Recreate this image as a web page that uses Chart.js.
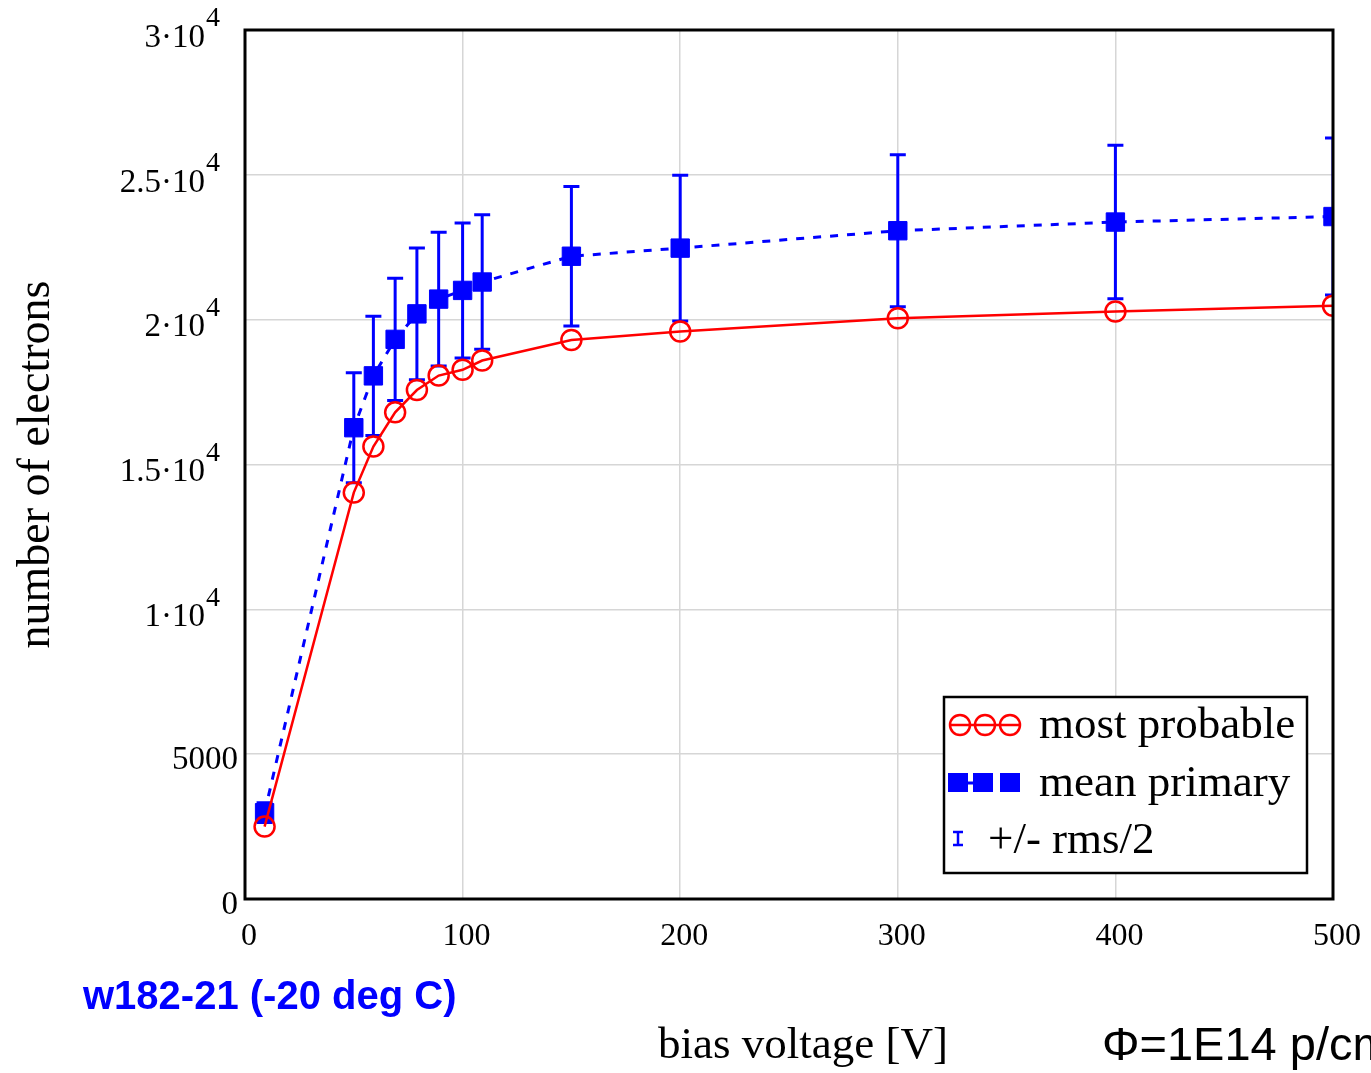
<!DOCTYPE html>
<html>
<head>
<meta charset="utf-8">
<script src="https://cdn.jsdelivr.net/npm/chart.js@4.4.1/dist/chart.umd.min.js"></script>
<style>
html,body{margin:0;padding:0;background:#fff;overflow:hidden;}
#wrap{position:relative;width:1371px;height:1073px;overflow:hidden;}
#cv{position:absolute;left:0;top:0;}
.note{position:absolute;white-space:nowrap;font-family:"Liberation Sans",Arial,sans-serif;}
#run{left:83px;top:971px;font-size:40px;font-weight:bold;color:#0000ff;line-height:48px;}
#fluence{left:1102px;top:1016px;font-size:47px;color:#000;line-height:56px;}
#xtitle{left:658px;top:1018px;font-size:45px;line-height:50px;color:#000;font-family:"Liberation Serif","Times New Roman",serif;}
</style>
</head>
<body>
<div id="wrap">
<canvas id="cv" width="1371" height="1073"></canvas>
<div class="note" id="run">w182-21 (-20 deg C)</div>
<div class="note" id="xtitle">bias voltage [V]</div>
<div class="note" id="fluence">Φ=1E14 p/cm²</div>
</div>
<script>
// data
const voltage      = [9, 50, 59, 69, 79, 89, 100, 109, 150, 200, 300, 400, 500];
const mostProbable = [2500, 14030, 15620, 16800, 17570, 18070, 18270, 18590, 19300, 19590, 20050, 20280, 20480];
const meanPrimary  = [2980, 16270, 18060, 19320, 20200, 20710, 21010, 21300, 22190, 22470, 23070, 23370, 23560];
const rmsHalf      = [340, 1900, 2060, 2110, 2270, 2310, 2330, 2320, 2410, 2515, 2620, 2650, 2710];

// y tick labels (mantissa + exponent, drawn by hand for the superscript)
const yTickValues = [0, 5000, 10000, 15000, 20000, 25000, 30000];
const yTickText   = ["0", "5000", "1\u00b710", "1.5\u00b710", "2\u00b710", "2.5\u00b710", "3\u00b710"];
const yTickExp    = ["", "", "4", "4", "4", "4", "4"];

const legendLabels = ["most probable", "mean primary", "+/- rms/2"];

const RED = "#ff0000", BLUE = "#0000ff";
const SERIF = '"Liberation Serif","Times New Roman",serif';

const pts = (ys)=>voltage.map((v,i)=>({x:v, y:ys[i]}));

// error bars under the blue squares
const errorBars = {
  id:"errorBars",
  beforeDatasetsDraw(chart){
    const {ctx, chartArea:a, scales:{x,y}} = chart;
    ctx.save();
    ctx.beginPath(); ctx.rect(a.left, a.top, a.right-a.left, a.bottom-a.top); ctx.clip();
    ctx.strokeStyle = BLUE; ctx.lineWidth = 3;
    voltage.forEach((v,i)=>{
      const px = x.getPixelForValue(v);
      const hi = y.getPixelForValue(meanPrimary[i]+rmsHalf[i]);
      const lo = y.getPixelForValue(meanPrimary[i]-rmsHalf[i]);
      ctx.beginPath();
      ctx.moveTo(px,hi); ctx.lineTo(px,lo);
      ctx.moveTo(px-8,hi); ctx.lineTo(px+8,hi);
      ctx.moveTo(px-8,lo); ctx.lineTo(px+8,lo);
      ctx.stroke();
    });
    ctx.restore();
  }
};

// frame, y tick labels, legend
const decor = {
  id:"decor",
  afterDraw(chart){
    const {ctx, chartArea:a, scales:{y}} = chart;
    ctx.save();
    ctx.strokeStyle = "#000"; ctx.lineWidth = 3;
    ctx.strokeRect(a.left, a.top, a.right-a.left, a.bottom-a.top);

    ctx.fillStyle = "#000";
    ctx.textBaseline = "middle";
    yTickValues.forEach((v,i)=>{
      const py = y.getPixelForValue(v);
      if(yTickExp[i]){
        ctx.font = "33px " + SERIF; ctx.textAlign = "right";
        ctx.fillText(yTickText[i], 205, py+8);
        ctx.font = "28px " + SERIF; ctx.textAlign = "left";
        ctx.fillText(yTickExp[i], 206, py-11);
      } else {
        ctx.font = "33px " + SERIF; ctx.textAlign = "right";
        ctx.fillText(yTickText[i], 238, py+6);
      }
    });

    // legend box
    const lx0=944, ly0=697, lx1=1307, ly1=873;
    ctx.fillStyle = "#fff"; ctx.fillRect(lx0,ly0,lx1-lx0,ly1-ly0);
    ctx.strokeStyle = "#000"; ctx.lineWidth = 2.5; ctx.strokeRect(lx0,ly0,lx1-lx0,ly1-ly0);

    // row 1: red circles on a line
    ctx.strokeStyle = RED; ctx.lineWidth = 2.5;
    ctx.beginPath(); ctx.moveTo(949,725); ctx.lineTo(1021,725); ctx.stroke();
    [960,985,1010].forEach(cx=>{ ctx.beginPath(); ctx.arc(cx,725,10,0,Math.PI*2); ctx.stroke(); });
    // row 2: blue squares
    ctx.fillStyle = BLUE; ctx.strokeStyle = BLUE; ctx.lineWidth = 3;
    ctx.beginPath(); ctx.moveTo(958,783); ctx.lineTo(984,783); ctx.stroke();
    [958,983,1010].forEach(cx=>ctx.fillRect(cx-10,773,20,19));
    // row 3: tiny error bar
    ctx.lineWidth = 2.5;
    ctx.beginPath();
    ctx.moveTo(958,832); ctx.lineTo(958,845);
    ctx.moveTo(953,832); ctx.lineTo(963,832);
    ctx.moveTo(953,845); ctx.lineTo(963,845);
    ctx.stroke();

    ctx.fillStyle = "#000"; ctx.font = "45px " + SERIF;
    ctx.textAlign = "left"; ctx.textBaseline = "alphabetic";
    ctx.fillText(legendLabels[0], 1039, 738);
    ctx.fillText(legendLabels[1], 1039, 796);
    ctx.fillText(legendLabels[2], 988, 853);
    ctx.restore();
  }
};

new Chart(document.getElementById("cv"), {
  type:"line",
  data:{
    datasets:[
      {label:legendLabels[0], data:pts(mostProbable), borderColor:RED, borderWidth:2.5,
       pointStyle:"circle", pointRadius:10, pointBorderWidth:2.5, pointBorderColor:RED,
       pointBackgroundColor:"rgba(0,0,0,0)", tension:0, clip:0},
      {label:legendLabels[1], data:pts(meanPrimary), borderColor:BLUE, borderWidth:3,
       borderDash:[8,9], pointStyle:"rect", pointRadius:13, pointBorderWidth:1,
       pointBorderColor:BLUE, pointBackgroundColor:BLUE, tension:0, clip:0}
    ]
  },
  options:{
    responsive:false, animation:false, devicePixelRatio:1,
    layout:{padding:{left:0, top:30, right:38, bottom:0}},
    plugins:{legend:{display:false}, tooltip:{enabled:false}},
    scales:{
      x:{type:"linear", min:0, max:500,
         afterFit:s=>{ s.height = 174; s.paddingLeft = 0; s.paddingRight = 0; },
         grid:{color:"#d6d6d6", lineWidth:1.5, drawTicks:false},
         border:{display:false},
         ticks:{stepSize:100, padding:18, labelOffset:4, color:"#000", font:{family:SERIF, size:32}}},
      y:{type:"linear", min:0, max:30000,
         afterFit:s=>{ s.width = 245; },
         grid:{color:"#d6d6d6", lineWidth:1.5, drawTicks:false},
         border:{display:false},
         ticks:{stepSize:5000, display:false},
         title:{display:true, text:"number of electrons", color:"#000",
                font:{family:SERIF, size:46, lineHeight:1}, padding:{top:14, bottom:0}}}
    }
  },
  plugins:[errorBars, decor]
});
</script>
</body>
</html>
